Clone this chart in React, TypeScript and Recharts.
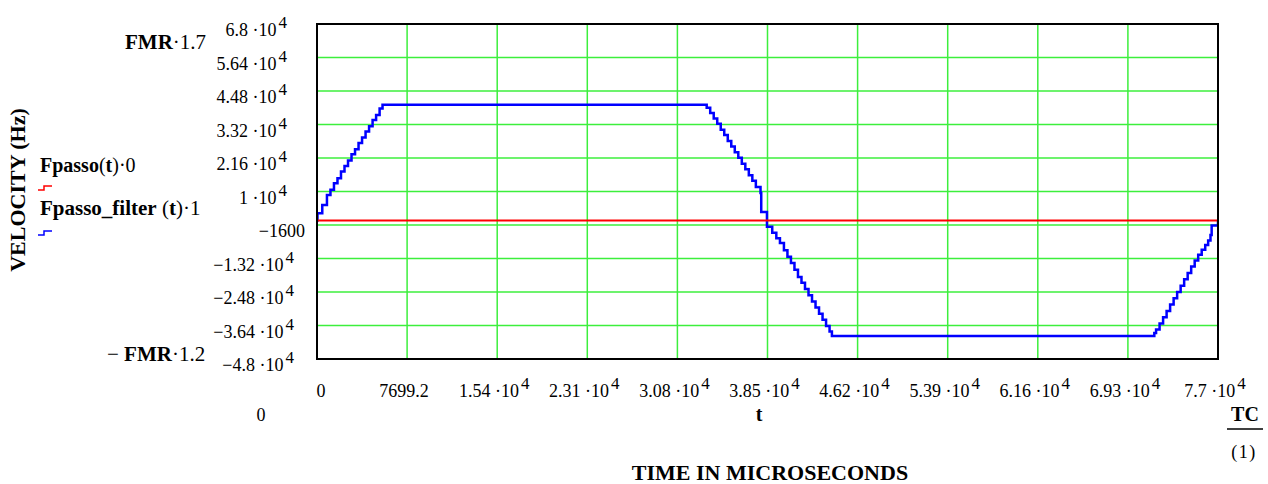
import React from "react";
import {
  LineChart,
  Line,
  XAxis,
  YAxis,
  CartesianGrid,
} from "recharts";

// time axis (microseconds) and the two traces
const blueTime = [
  0, 40, 450, 850, 1150, 1450, 1750, 2050, 2350, 2650, 2950, 3250, 3550, 3850,
  4150, 4450, 4750, 5050, 5350, 5600, 33300, 33600, 33900, 34200, 34500, 34800,
  35100, 35400, 35700, 36000, 36300, 36600, 36900, 37200, 37500, 37900, 37960,
  38450, 38900, 39250, 39560, 39900, 40200, 40500, 40800, 41100, 41400, 41700,
  42000, 42300, 42600, 42900, 43200, 43500, 43800, 44000, 71550, 71700, 72000,
  72300, 72600, 72900, 73200, 73500, 73800, 74100, 74400, 74700, 75000, 75300,
  75600, 75900, 76150, 76350, 76450, 76992,
];
const blueVel = [
  0, 2500, 5300, 8800, 10600, 12900, 14600, 16900, 18800, 20700, 22900, 24600,
  26800, 28700, 30800, 32600, 34800, 36500, 38700, 40000, 39000, 37200, 35300,
  33500, 31400, 29600, 27500, 25600, 23600, 21700, 19600, 17700, 15600, 13700,
  11600, 9500, 2900, -2200, -4300, -6200, -7800, -10300, -12600, -14800, -17100,
  -19600, -21600, -23800, -25900, -28100, -30200, -32300, -34400, -36600,
  -38500, -40000, -39000, -37800, -35700, -33500, -31400, -29100, -27000,
  -24800, -22600, -20400, -18200, -16000, -13900, -11900, -10200, -8500, -7000,
  -5100, -1800, 0,
];
const redTime = [0, 76992];
const redVel = [0, 0];

const xTicks = [
  0, 7699.2, 15398.4, 23097.6, 30796.8, 38496, 46195.2, 53894.4, 61593.6,
  69292.8, 76992,
];
const xTickLabels = [
  "0", "7699.2", "1.54·10^4", "2.31·10^4", "3.08·10^4", "3.85·10^4",
  "4.62·10^4", "5.39·10^4", "6.16·10^4", "6.93·10^4", "7.7·10^4",
];
const yTicks = [
  68000, 56400, 44800, 33200, 21600, 10000, -1600, -13200, -24800, -36400,
  -48000,
];
const yTickLabels = [
  "6.8·10^4", "5.64·10^4", "4.48·10^4", "3.32·10^4", "2.16·10^4", "1·10^4",
  "−1600", "−1.32·10^4", "−2.48·10^4", "−3.64·10^4", "−4.8·10^4",
];

const blueData = blueTime.map((t, i) => ({ t, v: blueVel[i] }));
const redData = redTime.map((t, i) => ({ t, v: redVel[i] }));

const SERIF = '"Liberation Serif", "Times New Roman", serif';
const W = 1268;
const H = 484;
const PLOT = { left: 317, top: 24, right: 1218, bottom: 359 };

// mathcad-ish label: "1.54·10^4" -> base + raised exponent
function MathText({ x, y, text, anchor }: any) {
  const [base, exp] = text.split("^");
  return (
    <text
      x={x}
      y={y}
      textAnchor={anchor}
      fontFamily={SERIF}
      fontSize={18}
      fill="#000"
    >
      <tspan>{base.replace("·", " ·")}</tspan>
      {exp && (
        <tspan dx={2} dy={-8} fontSize={17}>
          {exp}
        </tspan>
      )}
    </text>
  );
}

const XTick = (p: any) => {
  const i = p.index ?? xTicks.indexOf(p.payload?.value);
  const label = xTickLabels[i] ?? "";
  const x = i === 0 ? p.x + 4 : p.x - 3;
  return <MathText x={x} y={397} text={label} anchor="middle" />;
};

const YTick = (p: any) => {
  const i = p.index ?? yTicks.indexOf(p.payload?.value);
  const label = yTickLabels[i] ?? "";
  let end = 287;
  if (label.startsWith("−")) end += 7;
  if (!label.includes("^")) end += 11;
  return <MathText x={end} y={p.y + 12} text={label} anchor="end" />;
};

export default function App() {
  return (
    <div
      style={{
        position: "absolute",
        left: 0,
        top: 0,
        width: W,
        height: H,
        background: "#fff",
      }}
    >
      <LineChart
        width={W}
        height={H}
        margin={{
          top: PLOT.top,
          right: W - PLOT.right,
          bottom: 85,
          left: PLOT.left - 60,
        }}
      >
        <CartesianGrid stroke="#3cef3c" strokeWidth={1.5} />
        <XAxis
          type="number"
          dataKey="t"
          domain={[0, 76992]}
          ticks={xTicks}
          interval={0}
          height={H - PLOT.bottom - 85}
          axisLine={false}
          tickLine={false}
          tick={<XTick />}
          allowDataOverflow
        />
        <YAxis
          type="number"
          dataKey="v"
          domain={[-48000, 68000]}
          ticks={yTicks}
          interval={0}
          width={60}
          axisLine={false}
          tickLine={false}
          tick={<YTick />}
          allowDataOverflow
        />
        <Line
          data={blueData}
          dataKey="v"
          type="stepAfter"
          stroke="#0000ff"
          strokeWidth={2.5}
          dot={false}
          isAnimationActive={false}
        />
        <Line
          data={redData}
          dataKey="v"
          type="linear"
          stroke="#ff0000"
          strokeWidth={2}
          dot={false}
          isAnimationActive={false}
        />
      </LineChart>

      <svg
        width={W}
        height={H}
        style={{ position: "absolute", left: 0, top: 0, pointerEvents: "none" }}
        fontFamily={SERIF}
      >
        <rect
          x={PLOT.left}
          y={PLOT.top}
          width={PLOT.right - PLOT.left}
          height={PLOT.bottom - PLOT.top}
          fill="none"
          stroke="#000"
          strokeWidth={2}
        />

        <text x={125} y={49} fontSize={21}>
          <tspan fontWeight="bold">FMR</tspan>
          <tspan>·1.7</tspan>
        </text>
        <text x={107} y={361} fontSize={21}>
          <tspan>− </tspan>
          <tspan fontWeight="bold">FMR</tspan>
          <tspan>·1.2</tspan>
        </text>

        <text x={40} y={172} fontSize={20}>
          <tspan fontWeight="bold">Fpasso</tspan>
          <tspan>(</tspan>
          <tspan fontWeight="bold">t</tspan>
          <tspan>)·0</tspan>
        </text>
        <polyline
          points="38,190 44,190 44,186 52,186"
          fill="none"
          stroke="#ff0000"
          strokeWidth={1.5}
        />
        <text x={40} y={215} fontSize={21}>
          <tspan fontWeight="bold">Fpasso_filter</tspan>
          <tspan> (</tspan>
          <tspan fontWeight="bold">t</tspan>
          <tspan>)·1</tspan>
        </text>
        <polyline
          points="38,235 44,235 44,231 52,231"
          fill="none"
          stroke="#0000ff"
          strokeWidth={1.5}
        />

        <text
          x={25}
          y={190}
          fontSize={22}
          fontWeight="bold"
          textAnchor="middle"
          transform="rotate(-90 25 190)"
        >
          VELOCITY (Hz)
        </text>

        <text x={261} y={421} fontSize={18} textAnchor="middle">
          0
        </text>
        <text x={759} y={421} fontSize={20} fontWeight="bold" textAnchor="middle">
          t
        </text>
        <text x={1245} y={421} fontSize={20} fontWeight="bold" textAnchor="middle">
          TC
        </text>
        <line x1={1227} y1={429} x2={1263} y2={429} stroke="#000" strokeWidth={1.5} />
        <text x={1244} y={458} fontSize={18} textAnchor="middle" letterSpacing={1.5}>
          (1)
        </text>
        <text x={770} y={480} fontSize={22} fontWeight="bold" textAnchor="middle">
          TIME IN MICROSECONDS
        </text>
      </svg>
    </div>
  );
}
